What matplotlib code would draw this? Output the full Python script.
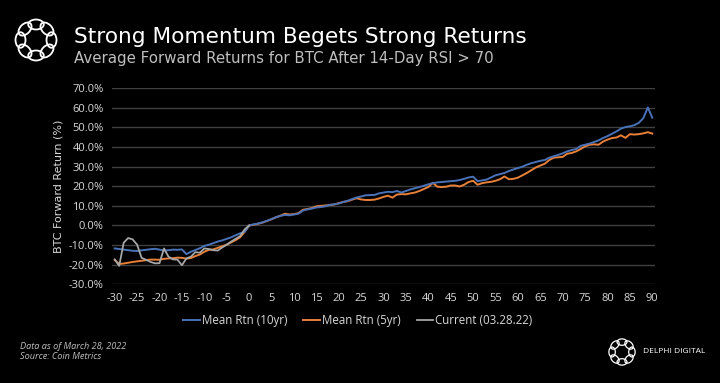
import matplotlib

matplotlib.use("Agg")
import matplotlib.pyplot as plt
import numpy as np
from matplotlib.patches import Ellipse

days = list(range(-30, 91))

mean_10yr = [
    -11.7, -12.0, -12.3, -12.6, -12.9, -13.0, -12.7, -12.4, -12.1, -11.9,
    -12.3, -12.8, -12.6, -12.3, -12.4, -12.2, -14.6, -13.4, -12.5, -11.6,
    -10.4, -9.8, -9.0, -8.2, -7.6, -6.8, -6.0, -5.0, -4.0, -3.2,
    0.0, 0.6, 1.0, 1.6, 2.4, 3.3, 4.2, 4.9, 5.4, 5.2,
    5.6, 6.0, 7.6, 8.2, 8.6, 9.2, 9.4, 9.8, 10.5, 10.8,
    11.2, 12.0, 12.6, 13.5, 14.3, 14.8, 15.4, 15.5, 15.6, 16.4,
    16.8, 17.2, 17.0, 17.6, 16.8, 17.6, 18.4, 19.0, 19.6, 20.3,
    21.0, 21.6, 22.0, 22.2, 22.4, 22.6, 22.8, 23.2, 23.8, 24.5,
    24.9, 22.6, 23.0, 23.4, 24.5, 25.6, 26.2, 26.8, 27.8, 28.6,
    29.3, 30.0, 31.0, 31.8, 32.4, 33.0, 33.4, 34.6, 35.3, 36.0,
    36.8, 37.8, 38.5, 39.0, 40.6, 41.2, 41.8, 42.6, 43.4, 44.6,
    45.6, 46.8, 48.0, 49.4, 50.2, 50.6, 51.2, 52.4, 54.8, 60.2,
    55.0,
]

mean_5yr = [
    -17.6, -19.6, -19.4, -19.0, -18.6, -18.3, -18.0, -17.7, -17.4, -17.4,
    -17.5, -17.0, -16.8, -16.7, -16.4, -16.5, -16.9, -16.6, -15.6, -14.8,
    -13.4, -12.4, -12.2, -11.4, -10.6, -9.8, -8.6, -7.4, -6.0, -3.2,
    0.0, 0.4, 0.9, 1.5, 2.3, 3.2, 4.2, 5.0, 6.0, 5.6,
    5.8, 6.3, 8.0, 8.4, 8.9, 9.8, 10.0, 10.2, 10.5, 10.7,
    11.4, 12.0, 12.4, 13.2, 13.9, 13.3, 13.0, 13.0, 13.2, 13.8,
    14.6, 15.2, 14.2, 15.8, 16.0, 15.9, 16.4, 16.8, 17.6, 18.6,
    19.6, 21.8, 19.8, 19.6, 19.8, 20.4, 20.4, 19.9, 20.8, 22.2,
    22.8, 20.8, 21.6, 22.0, 22.3, 22.8, 23.6, 25.0, 23.6, 23.8,
    24.4, 25.6, 26.8, 28.2, 29.6, 30.6, 31.5, 33.4, 34.6, 34.8,
    35.0, 36.6, 37.0, 37.8, 39.0, 40.4, 41.2, 41.4, 41.2, 42.8,
    43.8, 44.6, 44.9, 46.0, 44.7, 46.6, 46.4, 46.6, 47.0, 47.6,
    46.9,
]

current_days = list(range(-30, 1))
current = [
    -17.3, -20.6, -8.8, -6.4, -7.1, -9.8, -16.5, -17.5, -18.6, -19.3,
    -19.2, -11.7, -15.9, -17.3, -17.4, -20.3, -16.8, -15.9, -13.6, -13.9,
    -11.7, -12.0, -12.6, -12.8, -11.2, -9.8, -8.2, -6.8, -5.4, -2.0,
    0.0,
]

x_ticks = list(range(-30, 91, 5))
y_ticks = list(range(-30, 71, 10))

BLUE = "#4a72b8"
ORANGE = "#e8803a"
GRAY = "#a6a6a6"
TEXT = "#d9d9d9"
WIDE = ["DejaVu Sans"]

plt.rcParams["font.family"] = ["Open Sans", "DejaVu Sans"]


def draw_logo(fig, cx, cy, r, lw):
    # ring of interlocking loops, approximating the brand mark
    W, H = fig.get_size_inches() * fig.dpi
    ax = fig.add_axes([(cx - r) / W, 1 - (cy + r) / H, 2 * r / W, 2 * r / H])
    ax.set_xlim(-1, 1)
    ax.set_ylim(-1, 1)
    ax.set_aspect("equal")
    ax.set_axis_off()
    for k in range(8):
        a = np.pi / 2 + k * np.pi / 4
        ax.add_patch(Ellipse((0.62 * np.cos(a), 0.62 * np.sin(a)), 0.62, 0.4,
                             angle=np.degrees(a) + 90, fill=False, ec="white", lw=lw))


fig = plt.figure(figsize=(7.2, 3.83), dpi=100, facecolor="black")
ax = fig.add_axes([0.1556, 0.2577, 0.7541, 0.5118], facecolor="black")

ax.plot(days, mean_10yr, color=BLUE, lw=1.4, label="Mean Rtn (10yr)", zorder=3)
ax.plot(days, mean_5yr, color=ORANGE, lw=1.4, label="Mean Rtn (5yr)", zorder=2)
ax.plot(current_days, current, color=GRAY, lw=1.3, label="Current (03.28.22)", zorder=4)

ax.set_xlim(-30.6, 90.6)
ax.set_ylim(-30, 70)
ax.set_xticks(x_ticks, [str(v) for v in x_ticks])
ax.set_yticks(y_ticks, [f"{v:.1f}%" for v in y_ticks])
ax.tick_params(colors=TEXT, labelsize=8, length=0, pad=6)
ax.grid(axis="y", color="#404040", lw=1)
ax.set_axisbelow(True)
for s in ax.spines.values():
    s.set_visible(False)
ax.set_ylabel("BTC Forward Return (%)", color=TEXT, fontsize=8, labelpad=4,
              family=WIDE)

fig.legend(loc="center", bbox_to_anchor=(0.497, 0.164), ncol=3, frameon=False,
           fontsize=8.3, labelcolor=TEXT, handlelength=1.4,
           handletextpad=0.2, columnspacing=1.4)

fig.text(0.103, 0.904, "Strong Momentum Begets Strong Returns", color="white",
         fontsize=15.6, va="center", ha="left", family=WIDE)
fig.text(0.103, 0.848, "Average Forward Returns for BTC After 14-Day RSI > 70",
         color="#bfbfbf", fontsize=10.8, va="center", ha="left", family=WIDE)

fig.text(0.028, 0.094, "Data as of March 28, 2022", color="#bfbfbf", fontsize=6.6,
         style="italic", va="center")
fig.text(0.028, 0.068, "Source: Coin Metrics", color="#bfbfbf", fontsize=6.6,
         style="italic", va="center")
fig.text(0.893, 0.081, "DELPHI DIGITAL", color="white", fontsize=6.0,
         va="center", ha="left")

draw_logo(fig, 36, 40, 25, 1.3)
draw_logo(fig, 622, 352, 16, 0.9)

fig.savefig("out.png", dpi=100, facecolor="black")
